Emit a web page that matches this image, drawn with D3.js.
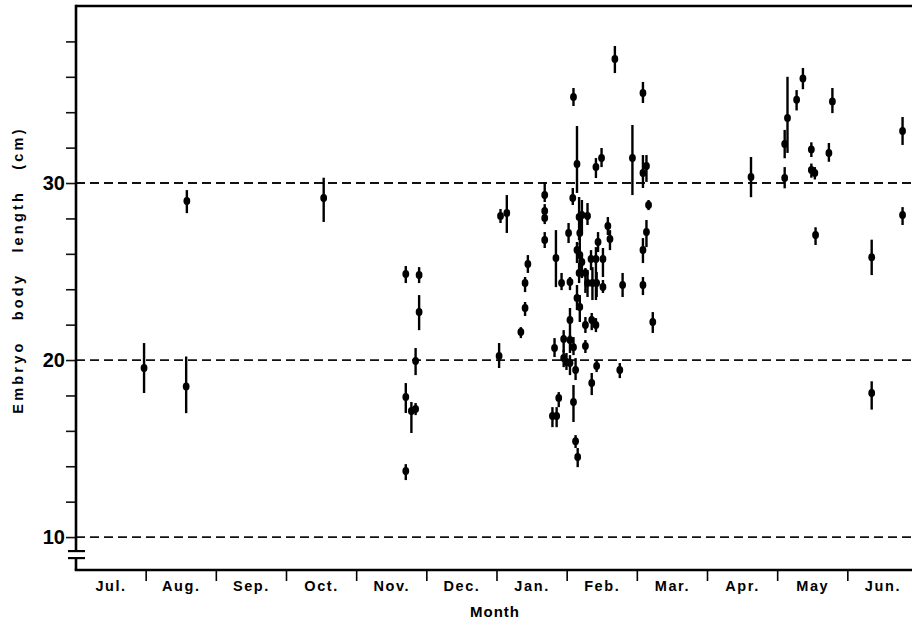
<!DOCTYPE html>
<html>
<head>
<meta charset="utf-8">
<script src="https://cdn.jsdelivr.net/npm/d3@7"></script>
<style>
  body { margin: 0; background: #fff; }
  svg { display: block; font-family: "Liberation Sans", Arial, sans-serif; }
</style>
</head>
<body>
<div id="chart"></div>
<script>
const width = 912;
const height = 625;

const month_labels = ["Jul.", "Aug.", "Sep.", "Oct.", "Nov.", "Dec.", "Jan.", "Feb.", "Mar.", "Apr.", "May", "Jun."];
const y_ticks = [10, 20, 30];
const ref_lines = [10, 20, 30];

// position in months from start of July, mean length, lower and upper end of bar (cm)
const pos = [
    0.97, 1.58, 1.57, 3.53,
    4.70, 4.89, 4.89, 4.84, 4.70, 4.78, 4.84, 4.70,
    6.03,
    6.05, 6.14, 6.68, 6.68, 6.68, 6.68, 6.44, 6.40, 6.40, 6.34,
    6.84, 6.92, 7.04, 7.02, 7.08, 7.14, 7.09, 7.17, 7.21, 7.29,
    7.18, 7.14, 7.18, 7.21, 7.17, 7.34, 7.41, 7.51, 7.44, 7.61,
    7.58, 7.26, 7.29, 7.36, 7.42, 7.51, 7.79, 7.14, 7.18, 7.04,
    6.95, 7.04, 7.09, 7.26, 7.35, 7.41, 7.26, 6.82, 6.95, 6.99,
    7.04, 7.12, 7.09, 7.42, 7.35, 7.75, 6.88, 6.79, 6.85, 7.12,
    7.15, 7.41, 7.49, 7.68, 7.93, 8.08, 8.08, 8.13, 8.16, 8.13,
    8.08, 8.08, 8.22,
    9.62,
    10.10, 10.10, 10.14, 10.27, 10.36, 10.48, 10.48, 10.53, 10.54, 10.73, 10.78,
    11.34, 11.34, 11.78, 11.78
];
const mean = [
    19.55, 28.98, 18.5, 29.15,
    24.86, 24.80, 22.71, 19.94, 17.91, 17.12, 17.23, 13.73,
    20.23,
    28.14, 28.31, 29.32, 28.42, 28.02, 26.78, 25.42, 24.35, 22.94, 21.58,
    25.76, 24.35, 24.41, 27.18, 29.15, 31.07, 34.86, 28.08, 28.19, 28.14,
    27.18, 26.21, 25.93, 25.54, 24.92, 25.71, 25.71, 25.71, 26.67, 26.84,
    27.57, 24.92, 24.35, 24.35, 24.35, 24.12, 24.24, 23.50, 23.00, 22.26,
    21.19, 21.13, 20.73, 21.98, 22.26, 21.98, 20.79, 20.68, 20.11, 19.89,
    19.83, 19.44, 17.63, 19.66, 18.70, 19.44, 17.85, 16.84, 16.84, 15.42,
    14.52, 30.90, 31.41, 37.00, 31.41, 35.08, 30.56, 30.96, 28.76, 27.23,
    26.21, 24.24, 22.15,
    30.34,
    30.28, 32.2, 33.67, 34.7, 35.9, 31.9, 30.73, 30.56, 27.06, 31.7, 34.6,
    25.8, 18.14, 32.94, 28.19
];
const lower = [
    18.14, 28.3, 17.0, 27.8,
    24.35, 24.35, 21.69, 19.15, 17.01, 15.88, 16.89, 13.22,
    19.55,
    27.74, 27.18, 28.93, 28.19, 27.68, 26.33, 24.92, 23.84, 22.49, 21.24,
    24.12, 23.95, 23.95, 26.61, 28.76, 29.44, 34.35, 26.78, 27.23, 27.63,
    26.50, 25.48, 24.97, 24.63, 24.35, 25.08, 23.39, 24.69, 26.10, 26.21,
    27.06, 23.79, 23.56, 23.39, 23.56, 23.79, 23.56, 22.82, 22.15, 21.30,
    20.45, 20.40, 20.28, 21.53, 21.69, 21.58, 20.40, 20.17, 19.60, 19.44,
    19.15, 18.87, 16.50, 19.32, 18.02, 18.98, 17.34, 16.21, 16.21, 15.03,
    13.95, 30.28, 30.90, 36.21, 29.32, 34.52, 29.72, 30.06, 28.47, 26.38,
    25.48, 23.67, 21.53,
    29.2,
    29.7, 31.4, 31.7, 34.1, 35.3, 31.47, 30.3, 30.2, 26.5, 31.2, 33.95,
    24.8, 17.2, 32.15, 27.63
];
const upper = [
    20.96, 29.6, 20.2, 30.3,
    25.31, 25.25, 23.67, 20.68, 18.70, 17.63, 17.57, 14.12,
    20.96,
    28.53, 29.32, 30.06, 28.81, 28.25, 27.23, 25.93, 24.69, 23.28, 21.86,
    27.34, 24.92, 24.69, 27.74, 29.72, 33.22, 35.37, 29.21, 29.04, 28.87,
    27.91, 26.67, 26.61, 26.04, 25.48, 26.21, 26.38, 26.33, 27.23, 27.34,
    28.08, 25.20, 25.08, 25.25, 24.97, 24.52, 24.92, 24.24, 23.67, 22.94,
    21.69, 21.41, 21.30, 22.43, 22.66, 22.37, 21.13, 21.24, 20.56, 20.40,
    20.28, 20.11, 18.59, 20.00, 19.27, 19.83, 18.19, 17.34, 17.34, 15.76,
    15.03, 31.41, 31.98, 37.74, 33.28, 35.71, 31.58, 31.58, 29.04, 27.91,
    26.89, 24.69, 22.71,
    31.47,
    30.9, 33.0, 36.0, 35.25, 36.5, 32.3, 31.1, 30.9, 27.5, 32.26, 35.37,
    26.8, 18.8, 33.73, 28.64
];

const points = pos.map((p, i) => ({pos: p, mean: mean[i], lo: lower[i], hi: upper[i]}));

const plot_left = 76, plot_top = 6, plot_bottom = 570, plot_right = 918;

const x = d3.scaleLinear().domain([0, 12]).range([plot_left, plot_right]);
const y = d3.scaleLinear().domain([8.14, 40]).range([plot_bottom, plot_top]);

const svg = d3.select("#chart").append("svg")
    .attr("width", width)
    .attr("height", height)
    .attr("viewBox", [0, 0, width, height]);

svg.append("rect").attr("width", width).attr("height", height).attr("fill", "#fff");

// dashed reference lines
svg.append("g")
    .selectAll("line")
    .data(ref_lines)
    .join("line")
    .attr("x1", plot_left)
    .attr("x2", width)
    .attr("y1", d => y(d))
    .attr("y2", d => y(d))
    .attr("stroke", "#111")
    .attr("stroke-width", 1.8)
    .attr("stroke-dasharray", "9,5");

// y axis ticks (every 2 cm) and labels
const yAxis = d3.axisLeft(y)
    .tickValues(d3.range(10, 40, 2))
    .tickSize(10)
    .tickFormat(d => y_ticks.includes(d) ? d : "");

const gy = svg.append("g")
    .attr("transform", `translate(${plot_left},0)`)
    .call(yAxis);
gy.select(".domain").remove();
gy.selectAll(".tick line").attr("stroke", "#111").attr("stroke-width", 1.6);
gy.selectAll(".tick text")
    .attr("x", -11)
    .attr("fill", "#000")
    .attr("font-size", 20)
    .attr("font-weight", "bold");

// frame: left axis with break, top border, bottom axis
const frame = svg.append("g").attr("stroke", "#000").attr("stroke-width", 2.6).attr("fill", "none");
frame.append("line").attr("x1", plot_left).attr("x2", width).attr("y1", plot_top).attr("y2", plot_top);
frame.append("line").attr("x1", plot_left).attr("x2", plot_left).attr("y1", plot_top - 1.3).attr("y2", y(10) + 14);
frame.append("line").attr("x1", plot_left).attr("x2", plot_left).attr("y1", y(10) + 21).attr("y2", plot_bottom);
frame.append("line").attr("x1", plot_left - 1.3).attr("x2", width).attr("y1", plot_bottom).attr("y2", plot_bottom);
frame.append("line").attr("x1", plot_left - 8).attr("x2", plot_left + 9).attr("y1", y(10) + 14).attr("y2", y(10) + 14).attr("stroke-width", 2.2);
frame.append("line").attr("x1", plot_left - 8).attr("x2", plot_left + 9).attr("y1", y(10) + 21).attr("y2", y(10) + 21).attr("stroke-width", 2.2);

// month ticks and labels
const gx = svg.append("g");
gx.selectAll("line")
    .data(d3.range(1, 12))
    .join("line")
    .attr("x1", d => x(d))
    .attr("x2", d => x(d))
    .attr("y1", plot_bottom)
    .attr("y2", plot_bottom + 11)
    .attr("stroke", "#000")
    .attr("stroke-width", 1.6);
gx.selectAll("text")
    .data(month_labels)
    .join("text")
    .attr("x", (d, i) => x(i + 0.5))
    .attr("y", plot_bottom + 21)
    .attr("text-anchor", "middle")
    .attr("font-size", 14.5)
    .attr("font-weight", "bold")
    .attr("letter-spacing", 1.6)
    .text(d => d);

svg.append("text")
    .attr("x", 495)
    .attr("y", 617)
    .attr("text-anchor", "middle")
    .attr("font-size", 15)
    .attr("font-weight", "bold")
    .attr("letter-spacing", 1)
    .text("Month");

svg.append("text")
    .attr("transform", `translate(23,${270}) rotate(-90)`)
    .attr("text-anchor", "middle")
    .attr("font-size", 14.5)
    .attr("font-weight", "bold")
    .attr("letter-spacing", 3.2)
    .attr("word-spacing", 13)
    .text("Embryo body length (cm)");

// error bars and means
const marks = svg.append("g");
marks.selectAll("line")
    .data(points)
    .join("line")
    .attr("x1", d => x(d.pos))
    .attr("x2", d => x(d.pos))
    .attr("y1", d => y(d.hi))
    .attr("y2", d => y(d.lo))
    .attr("stroke", "#000")
    .attr("stroke-width", 2.4);
marks.selectAll("ellipse")
    .data(points)
    .join("ellipse")
    .attr("cx", d => x(d.pos))
    .attr("cy", d => y(d.mean))
    .attr("rx", 3.4)
    .attr("ry", 4)
    .attr("fill", "#000");
</script>
</body>
</html>
